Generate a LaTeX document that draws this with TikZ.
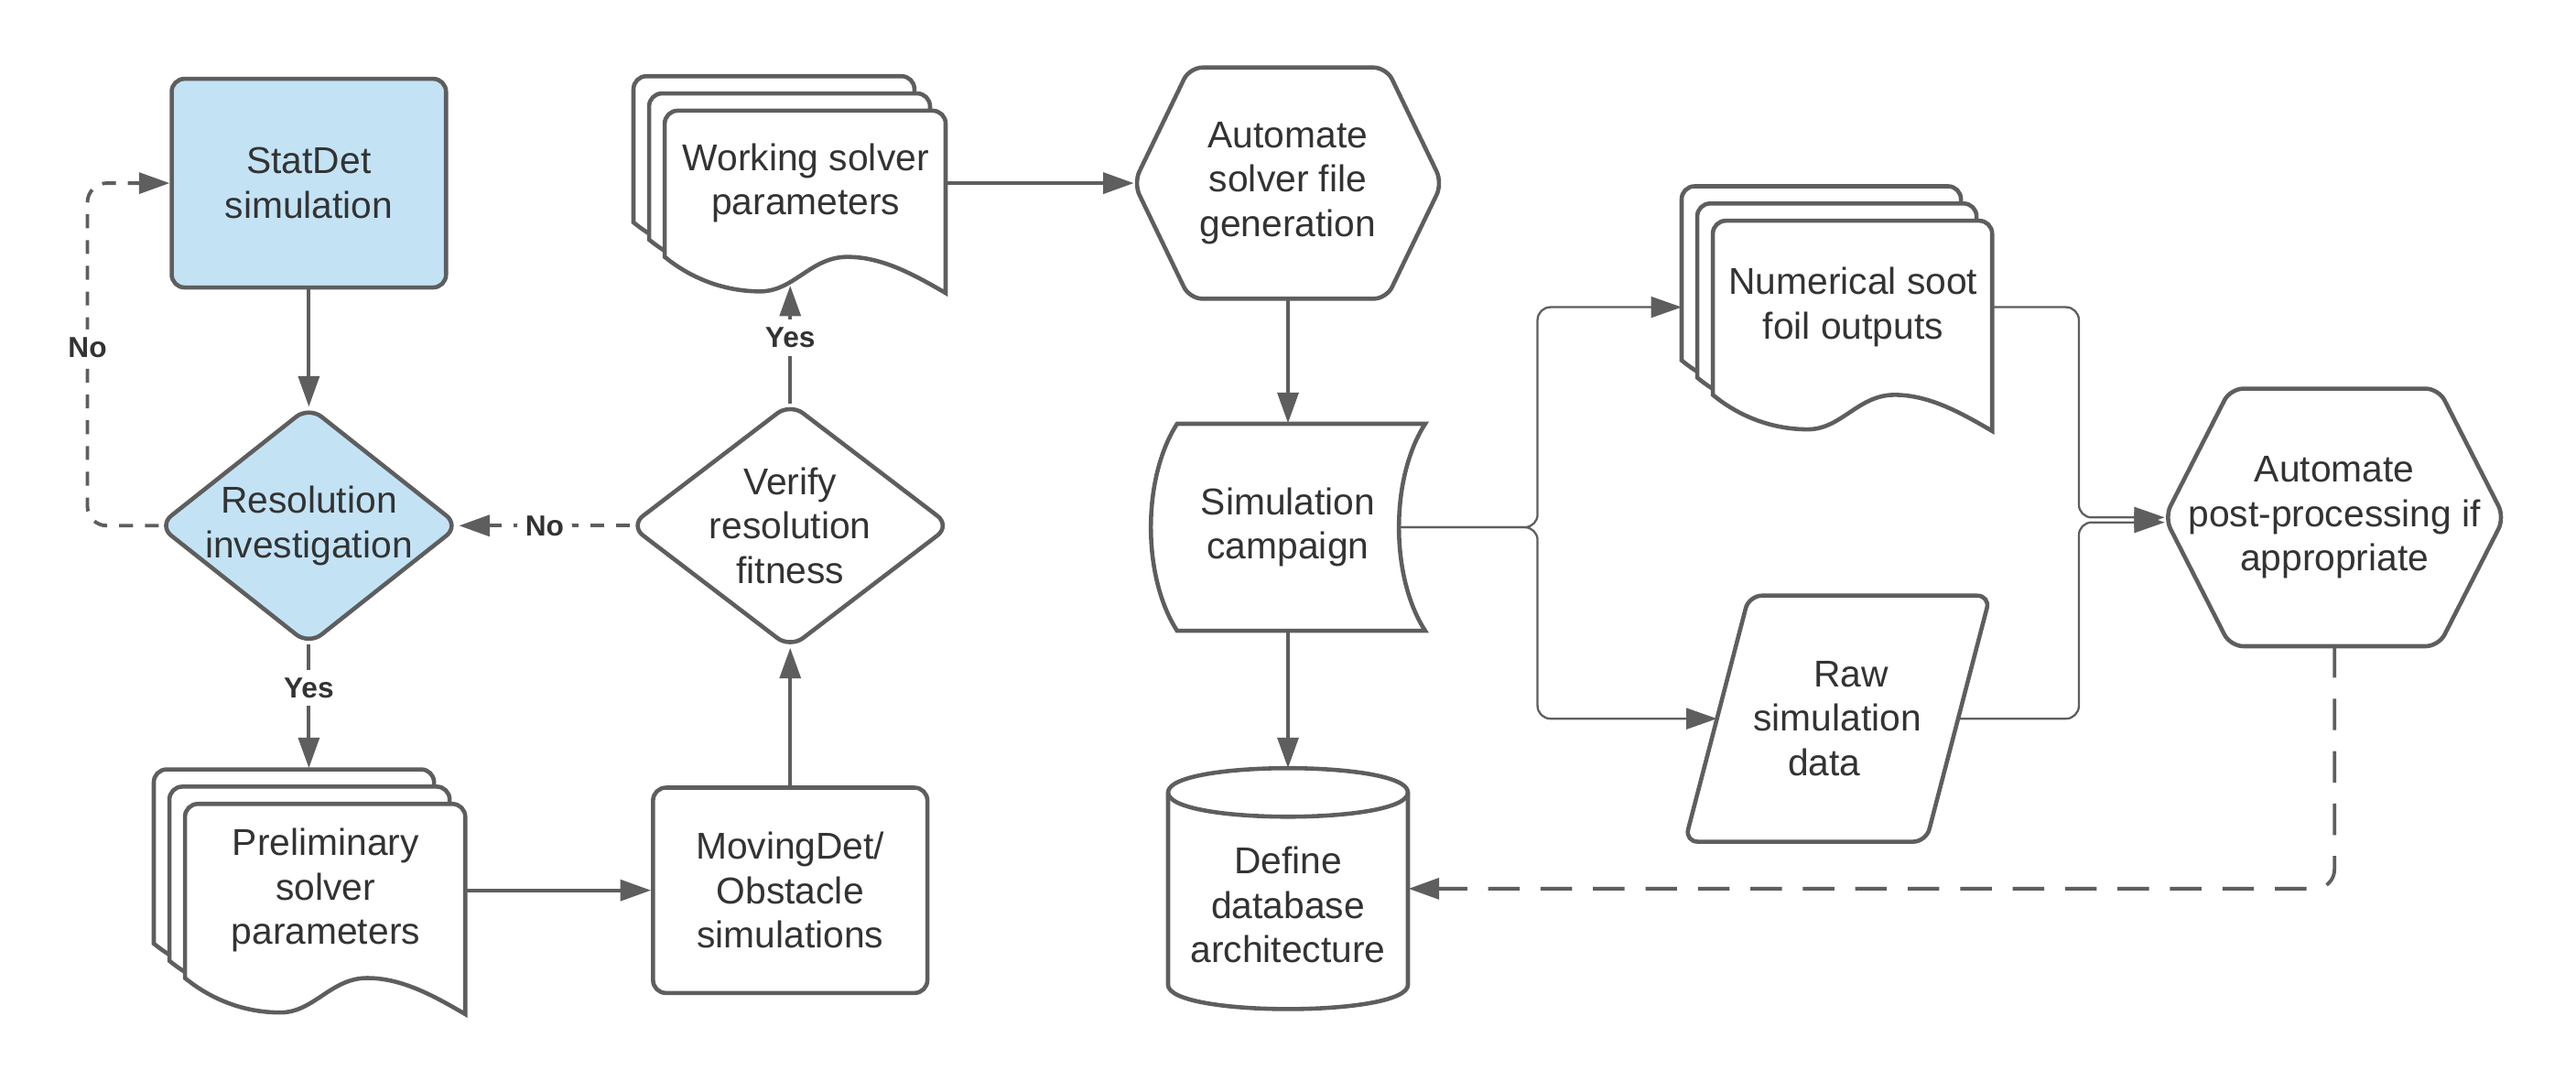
\documentclass[tikz,border=0pt]{standalone}
\usepackage{fontspec}
\setmainfont{Liberation Sans}
\usetikzlibrary{arrows.meta,calc,backgrounds}

\definecolor{linegray}{HTML}{5E5E5E}
\definecolor{textgray}{HTML}{333333}
\definecolor{paleblue}{HTML}{C3E3F5}

\def\pu{0.017946cm}
% one sheet of a stack: node, width, body height, shift x, shift y
\def\docsheet#1#2#3#4#5{\draw[outline, fill=white, shift={($(#1.south west)+(#4,#5)$)}] (0,0) [rounded corners=4pt] -- (0,-#3) -- (#2,-#3) [sharp corners] -- (#2,22) .. controls (0.88*#2,10) and (0.77*#2,0) .. (0.65*#2,0) .. controls (0.52*#2,0) and (0.46*#2,21) .. (0.34*#2,21) .. controls (0.22*#2,21) and (0.1*#2,14) .. (0,0) -- cycle;}
\def\docstack#1#2#3{\docsheet{#1}{#2}{#3}{-19}{-21}\docsheet{#1}{#2}{#3}{-9.5}{-10.5}\docsheet{#1}{#2}{#3}{0}{0}}
\def\hexat#1#2{\draw[outline, fill=white, rounded corners=4pt] ($(#1.north west)+(#2,0)$) -- ($(#1.north east)+(-#2,0)$) -- (#1.east) -- ($(#1.south east)+(-#2,0)$) -- ($(#1.south west)+(#2,0)$) -- (#1.west) -- cycle;}

\tikzset{
	outline/.style={draw=linegray, line width=1.3pt},
	block/.style={align=center, text=textgray, font=\fontsize{11.6}{13.8}\selectfont, inner sep=0pt},
	boxsize/.style 2 args={minimum width={#1*\pu}, minimum height={#2*\pu}},
	flow/.style={draw=linegray, line width=1.1pt, -{Triangle[length=9.5pt, width=6.5pt]}},
	thinflow/.style={flow, line width=0.65pt, rounded corners=4pt},
	shortdash/.style={flow, dash pattern=on 4.3pt off 3.7pt, rounded corners=6pt},
	longdash/.style={flow, dash pattern=on 9.8pt off 6.5pt, rounded corners=6pt},
	answer/.style={fill=white, inner sep=2.5pt, text=textgray, font=\bfseries\fontsize{9}{11}\selectfont},
}

\begin{document}
\begin{tikzpicture}[x=\pu, y=-\pu]
	%%%%% START %%%%%
	\useasboundingbox (0,0) rectangle (1568,658);
	
	\node[block, boxsize={167}{127}, outline, fill=paleblue, rounded corners=4pt] (statdet) at (188,111.5) {StatDet\\simulation};
	\node[block, boxsize={182}{144}] (resol) at (188,320) {Resolution\\investigation};
	\node[block, boxsize={170.6}{106}] (prelim) at (198.3,542) {Preliminary\\solver\\parameters};
	\node[block, boxsize={167}{125}, outline, rounded corners=4pt] (moving) at (481,542) {MovingDet/\\Obstacle\\simulations};
	\node[block, boxsize={194}{148}] (verify) at (481,320) {Verify\\resolution\\fitness};
	\node[block, boxsize={171}{89}] (work) at (490.5,111.5) {Working solver\\parameters};
	\node[block, boxsize={187}{140}] (autogen) at (784,111.5) {Automate\\solver file\\generation};
	\node[block, boxsize={167}{126}] (camp) at (784,321) {Simulation\\campaign};
	\node[block, boxsize={146}{166}] (dbase) at (784,551) {Define\\database\\architecture};
	\node[block, boxsize={170}{106}] (numsoot) at (1128,187) {Numerical soot\\foil outputs};
	\node[block, boxsize={185}{149}] (raw) at (1118.5,437.5) {\kern0.29cm Raw\\simulation\\data\kern0.29cm};
	\node[block, boxsize={206}{156}] (post) at (1421,315) {Automate\\post-processing if\\appropriate};
	
	\begin{scope}[on background layer]
		\draw[outline, fill=paleblue, rounded corners=5pt] (resol.north) -- (resol.east) -- (resol.south) -- (resol.west) -- cycle;
		\draw[outline, fill=white, rounded corners=5pt] (verify.north) -- (verify.east) -- (verify.south) -- (verify.west) -- cycle;
		\docstack{prelim}{170.6}{106}
		\docstack{work}{171}{89}
		\docstack{numsoot}{170}{106}
		\hexat{autogen}{34}
		\hexat{post}{40}
		\draw[outline, fill=white, shift={(camp.center)}] (-67.5,-63) -- (83.5,-63) .. controls (62.2,-30) and (62.2,30) .. (83.5,63) -- (-67.5,63) .. controls (-88.8,30) and (-88.8,-30) .. (-67.5,-63) -- cycle;
		\draw[outline, fill=white, shift={(dbase.north)}] (-73,14.8) -- (-73,131.9) .. controls (-73,151.6) and (73,151.6) .. (73,131.9) -- (73,14.8) .. controls (73,-4.9) and (-73,-4.9) .. (-73,14.8) -- cycle;
		\draw[outline, shift={(dbase.north)}] (-73,14.8) .. controls (-73,34.5) and (73,34.5) .. (73,14.8);
		\draw[outline, fill=white, rounded corners=4pt] ($(raw.north west)+(39,0)$) -- (raw.north east) -- ($(raw.south east)+(-39,0)$) -- (raw.south west) -- cycle;
	\end{scope}
	
	\coordinate (prelim-top) at ($(prelim.north)+(0,-21)$);
	\coordinate (numsoot-back) at ($(numsoot.west)+(-19,0)$);
	\coordinate (camp-out) at ($(camp.east)+(-16,0)$);
	\coordinate (raw-in) at ($(raw.west)+(19.5,0)$);
	\coordinate (raw-out) at ($(raw.east)+(-19.5,0)$);
	\coordinate (dbase-in) at ($(dbase.east)+(0,-10)$);
	\coordinate (work-in) at ($(verify.north |- work.south)+(0,17.5)$);
	
	\draw[flow] (statdet.south) -- (resol.north);
	\draw[flow] (resol.south) -- node[answer, pos=0.35]{Yes} (resol.south |- prelim-top);
	\draw[shortdash] (resol.west) -| node[answer, pos=0.76]{No} ($(statdet.west)+(-50,0)$) -- (statdet.west);
	\draw[shortdash] (verify.west) -- node[answer]{No} (resol.east);
	\draw[flow] (prelim.east) -- (moving.west);
	\draw[flow] (moving.north) -- (verify.south);
	\draw[flow] (verify.north) -- node[answer, pos=0.56]{Yes} (work-in);
	\draw[flow] (work.east) -- (autogen.west);
	\draw[flow] (autogen.south) -- (camp.north);
	\draw[flow] (camp.south) -- (dbase.north);
	\draw[thinflow] (camp-out) -- ++(84,0) |- (numsoot-back);
	\draw[thinflow] (camp-out) -- ++(84,0) |- (raw-in);
	\draw[thinflow] (numsoot.east) -- ++(52,0) |- (post.west);
	\draw[thinflow] (raw-out) -- ++(73.5,0) |- ($(post.west)+(0,3)$);
	\draw[longdash] (post.south) |- (dbase-in);
	
	%%%%% END %%%%%
\end{tikzpicture}
\end{document}
